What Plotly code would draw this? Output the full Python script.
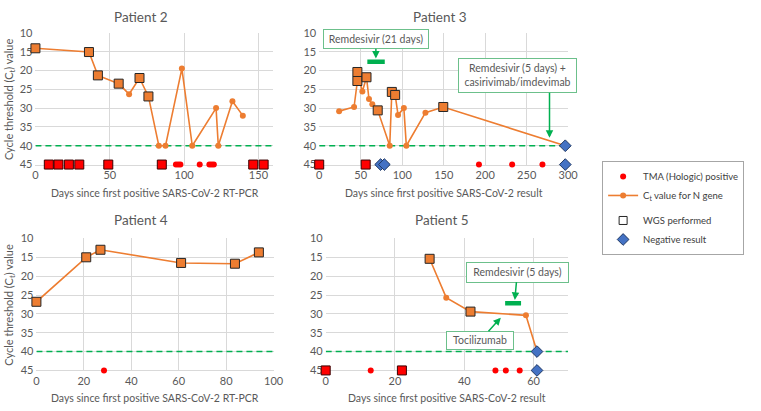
import plotly.graph_objects as go

# ---------------- data ----------------
# Patient 2
p2_ct_days = [0, 36, 42, 56, 63, 70, 76, 83, 87.5, 98.5, 105.5, 121.5, 123, 132.5, 139.5]
p2_ct_vals = [14.1, 15.1, 21.3, 23.5, 26.3, 22.0, 26.9, 40, 40, 19.5, 40, 30.0, 40, 28.2, 32.0]
p2_ct_wgs = [1, 1, 1, 1, 0, 1, 1, 0, 0, 0, 0, 0, 0, 0, 0]
p2_tma_wgs_days = [9, 15.5, 22.5, 29.5, 49, 85, 146.5, 153.5]
p2_tma_days = [94.5, 96, 97.5, 110.5, 117, 118.5, 120]
p2_neg_tma_days = []
p2_neg_ct_days = []

# Patient 3
p3_ct_days = [24, 42, 46, 46, 52, 57, 60, 64, 70.5, 85, 87.5, 91.5, 95, 102, 105, 128, 149.5, 296.5]
p3_ct_vals = [30.8, 29.7, 22.8, 20.4, 25.6, 21.8, 27.6, 29.0, 30.6, 40, 25.7, 26.5, 31.8, 30.0, 40, 31.2, 29.7, 40]
p3_ct_wgs = [0, 0, 1, 1, 0, 1, 0, 0, 1, 0, 1, 1, 0, 0, 0, 0, 1, 0]
p3_tma_wgs_days = [0, 56]
p3_tma_days = [192.5, 232.5, 269]
p3_neg_tma_days = [74, 78.5, 296.5]
p3_neg_ct_days = [296.5]
p3_remdesivir_days = [58, 79]

# Patient 4
p4_ct_days = [0, 21, 27, 61, 83.7, 93.8]
p4_ct_vals = [26.8, 15.0, 13.0, 16.5, 16.7, 13.7]
p4_ct_wgs = [1, 1, 1, 1, 1, 1]
p4_tma_wgs_days = []
p4_tma_days = [28.5]
p4_neg_tma_days = []
p4_neg_ct_days = []

# Patient 5
p5_ct_days = [30, 34.8, 41.8, 57.8, 61]
p5_ct_vals = [15.4, 25.7, 29.4, 30.4, 40]
p5_ct_wgs = [1, 0, 1, 0, 0]
p5_tma_wgs_days = [0, 22]
p5_tma_days = [13, 49, 52, 56]
p5_neg_tma_days = [61]
p5_neg_ct_days = [61]
p5_remdesivir_days = [51.8, 56.4]

x_ranges = {"p2": [0, 160], "p3": [0, 300], "p4": [0, 100], "p5": [0, 70]}
x_dticks = {"p2": 50, "p3": 50, "p4": 20, "p5": 20}
y_ticks = [10, 15, 20, 25, 30, 35, 40, 45]
CT_NEG = 40
TMA_ROW = 45

# ---------------- styles ----------------
FONT = "Lato"
ORANGE = "#ED7D31"
RED = "#FF0000"
BLUE = "#4472C4"
GREEN = "#00B050"
BOXGREEN = "#6CC08B"
GRID = "#D9D9D9"
TXT = "#595959"

W, H = 761, 411

def px_x(a, b):
    return [a / W, b / W]

def px_y(top, bottom):
    return [1 - bottom / H, 1 - top / H]

domains = {
    "p2": (px_x(33, 275), px_y(26.7, 162.7)),
    "p3": (px_x(321.7, 575), px_y(26.7, 162.7)),
    "p4": (px_x(34, 275.3), px_y(239, 375.3)),
    "p5": (px_x(328.3, 575), px_y(239, 375.3)),
}

patients = {
    "p2": dict(ct_d=p2_ct_days, ct_v=p2_ct_vals, wgs=p2_ct_wgs, tw=p2_tma_wgs_days, t=p2_tma_days, nt=p2_neg_tma_days, nc=p2_neg_ct_days),
    "p3": dict(ct_d=p3_ct_days, ct_v=p3_ct_vals, wgs=p3_ct_wgs, tw=p3_tma_wgs_days, t=p3_tma_days, nt=p3_neg_tma_days, nc=p3_neg_ct_days),
    "p4": dict(ct_d=p4_ct_days, ct_v=p4_ct_vals, wgs=p4_ct_wgs, tw=p4_tma_wgs_days, t=p4_tma_days, nt=p4_neg_tma_days, nc=p4_neg_ct_days),
    "p5": dict(ct_d=p5_ct_days, ct_v=p5_ct_vals, wgs=p5_ct_wgs, tw=p5_tma_wgs_days, t=p5_tma_days, nt=p5_neg_tma_days, nc=p5_neg_ct_days),
}
axis_ids = {"p2": "", "p3": "2", "p4": "3", "p5": "4"}

fig = go.Figure()
layout_axes = {}
shapes = []

for key, d in patients.items():
    aid = axis_ids[key]
    xa, ya = "x" + aid, "y" + aid
    xdom, ydom = domains[key]
    layout_axes["xaxis" + aid] = dict(
        domain=xdom, anchor=ya, range=x_ranges[key], dtick=x_dticks[key], tick0=0,
        showgrid=True, gridcolor=GRID, gridwidth=1, zeroline=False,
        showline=True, linecolor=GRID, ticks="", tickfont=dict(family=FONT, size=11, color=TXT),
        layer="below traces", fixedrange=True,
    )
    layout_axes["yaxis" + aid] = dict(
        domain=ydom, anchor=xa, range=[45, 10], tickvals=y_ticks,
        showgrid=True, gridcolor=GRID, gridwidth=1, zeroline=False,
        showline=False, ticks="", tickfont=dict(family=FONT, size=11, color=TXT),
        ticklabelstandoff=2, layer="below traces", fixedrange=True,
    )
    # Ct = 40 threshold (dashed green)
    fig.add_trace(go.Scatter(
        x=x_ranges[key], y=[CT_NEG, CT_NEG], xaxis=xa, yaxis=ya, mode="lines",
        line=dict(color=GREEN, width=1.6, dash="6px,4px"), showlegend=False, hoverinfo="skip"))

    first = key == "p2"
    # Ct line
    fig.add_trace(go.Scatter(
        x=d["ct_d"], y=d["ct_v"], xaxis=xa, yaxis=ya, mode="lines+markers",
        line=dict(color=ORANGE, width=1.6), marker=dict(color=ORANGE, size=6, symbol="circle"),
        name="C<sub>t</sub> value for N gene", legendgroup="a", legendrank=2,
        showlegend=first, cliponaxis=False, hoverinfo="x+y"))
    # WGS squares on Ct points
    wx = [x for x, w in zip(d["ct_d"], d["wgs"]) if w]
    wy = [y for y, w in zip(d["ct_v"], d["wgs"]) if w]
    fig.add_trace(go.Scatter(
        x=wx, y=wy, xaxis=xa, yaxis=ya, mode="markers",
        marker=dict(color=ORANGE, size=9, symbol="square", line=dict(color="#262626", width=1)),
        showlegend=False, cliponaxis=False, hoverinfo="x+y"))
    # TMA positive (dots)
    fig.add_trace(go.Scatter(
        x=d["t"], y=[TMA_ROW] * len(d["t"]), xaxis=xa, yaxis=ya, mode="markers",
        marker=dict(color=RED, size=6, symbol="circle"),
        name="TMA (Hologic) positive", legendgroup="a", legendrank=1,
        showlegend=first, cliponaxis=False, hoverinfo="x"))
    # TMA positive with WGS (squares)
    fig.add_trace(go.Scatter(
        x=d["tw"], y=[TMA_ROW] * len(d["tw"]), xaxis=xa, yaxis=ya, mode="markers",
        marker=dict(color=RED, size=9, symbol="square", line=dict(color="#3A0000", width=1)),
        showlegend=False, cliponaxis=False, hoverinfo="x"))
    # Negative results
    nx = list(d["nt"]) + list(d["nc"])
    ny = [TMA_ROW] * len(d["nt"]) + [CT_NEG] * len(d["nc"])
    fig.add_trace(go.Scatter(
        x=nx, y=ny, xaxis=xa, yaxis=ya, mode="markers",
        marker=dict(color=BLUE, size=9, symbol="diamond", line=dict(color="#1F3864", width=1)),
        name="Negative result", legendgroup="b", legendrank=4,
        showlegend=(key == "p3"), cliponaxis=False, hoverinfo="x"))

# WGS legend entry
fig.add_trace(go.Scatter(
    x=[None], y=[None], mode="markers",
    marker=dict(color="#262626", size=8, symbol="square-open", line=dict(color="#262626", width=1)),
    name="WGS performed", legendgroup="b", legendrank=3, showlegend=True))

# Treatment bars
fig.add_trace(go.Scatter(x=p3_remdesivir_days, y=[17.7, 17.7], xaxis="x2", yaxis="y2", mode="lines",
                         line=dict(color=GREEN, width=4.5), showlegend=False, hoverinfo="skip"))
fig.add_trace(go.Scatter(x=p5_remdesivir_days, y=[27.2, 27.2], xaxis="x4", yaxis="y4", mode="lines",
                         line=dict(color=GREEN, width=4.5), showlegend=False, hoverinfo="skip"))

annotations = []
# subplot titles
for txt, cx, cy in [("Patient 2", 140, 0), ("Patient 3", 445, 0), ("Patient 4", 140, 209.5), ("Patient 5", 447, 209.5)]:
    annotations.append(dict(text=txt, x=cx / W, y=1 - cy / H, xref="paper", yref="paper",
                            xanchor="center", yanchor="top", showarrow=False,
                            font=dict(family=FONT, size=13.5, color=TXT)))
# axis titles
for txt, cx, cy in [("Days since first positive SARS-CoV-2 RT-PCR", 155, 192.5),
                    ("Days since first positive SARS-CoV-2 result", 449, 192.5),
                    ("Days since first positive SARS-CoV-2 RT-PCR", 155, 403.5),
                    ("Days since first positive SARS-CoV-2 result", 452, 403.5)]:
    annotations.append(dict(text=txt, x=cx / W, y=1 - cy / H, xref="paper", yref="paper",
                            xanchor="center", yanchor="middle", showarrow=False,
                            font=dict(family=FONT, size=10.5, color=TXT)))
for cy in [94.7, 307]:
    annotations.append(dict(text="Cycle threshold (C<sub>t</sub>) value", x=6.5 / W, y=1 - cy / H,
                            xref="paper", yref="paper", xanchor="center", yanchor="middle",
                            showarrow=False, textangle=-90,
                            font=dict(family=FONT, size=11, color=TXT)))

BOXFONT = dict(family=FONT, size=10.5, color=TXT)
ARROW = dict(arrowhead=2, arrowsize=1, arrowwidth=1.5, arrowcolor=GREEN, standoff=0)

def box(text, x, y, xa, ya, w, h):
    return dict(text=text, x=x, y=y, xref=xa, yref=ya, xanchor="center", yanchor="middle",
                showarrow=False, width=w - 8, height=h - 8, borderpad=3, borderwidth=1,
                bordercolor=BOXGREEN, bgcolor="white", font=BOXFONT)

def box_arrow(text, x, y, xa, ya, ax, ay, w, h):
    # x, y = arrow head (data); ax, ay = box centre offset in pixels
    return dict(text=text, x=x, y=y, xref=xa, yref=ya, ax=ax, ay=ay, showarrow=True,
                width=w - 8, height=h - 8, borderpad=3, borderwidth=1,
                bordercolor=BOXGREEN, bgcolor="white", font=BOXFONT, **ARROW)

annotations += [
    box_arrow("Remdesivir (21 days)", 68.3, 16.8, "x2", "y2", 0, -19.3, 106, 19.5),
    box("Remdesivir (5 days) +<br>casirivimab/imdevimab", 238.4, 21.45, "x2", "y2", 119, 34.5),
    dict(text="", x=277.5, y=37.9, xref="x2", yref="y2", ax=0, ay=-46.7, showarrow=True, **ARROW),
    box_arrow("Remdesivir (5 days)", 54.6, 26.3, "x4", "y4", 2.5, -27.8, 103, 20.5),
    box_arrow("Tocilizumab", 50.55, 31.0, "x4", "y4", -20.5, 22.5, 68, 18.5),
]

# legend divider between the two legend groups
shapes.append(dict(type="line", xref="paper", yref="paper", x0=610 / W, x1=753.5 / W,
                   y0=1 - 208 / H, y1=1 - 208 / H, line=dict(color="#A6A6A6", width=1)))

fig.update_layout(
    width=W, height=H, margin=dict(l=0, r=0, t=0, b=0),
    paper_bgcolor="white", plot_bgcolor="white",
    font=dict(family=FONT, size=10, color=TXT),
    showlegend=True,
    legend=dict(x=754 / W, y=1 - 159 / H, xanchor="right", yanchor="top",
                bordercolor="#A6A6A6", borderwidth=1, bgcolor="white",
                font=dict(family=FONT, size=9.5, color="#404040"),
                traceorder="grouped", tracegroupgap=6, itemwidth=30),
    annotations=annotations, shapes=shapes,
    **layout_axes,
)

fig.write_html("out.html", config={"displayModeBar": False},
               post_script="document.body.style.margin='0px';")
